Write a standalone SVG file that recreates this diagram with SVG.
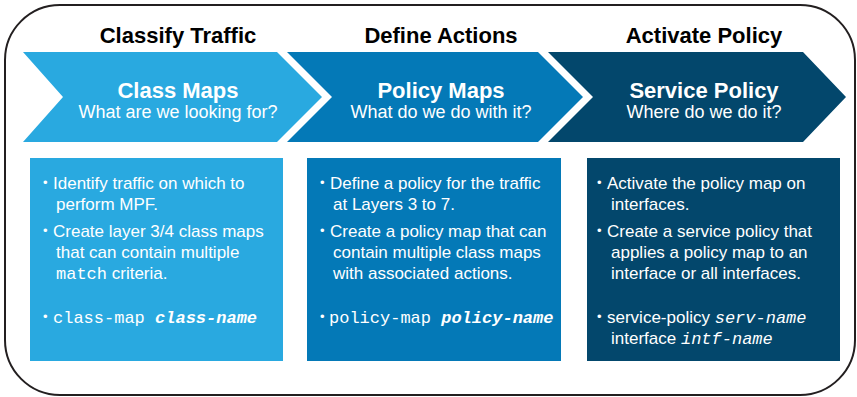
<svg xmlns="http://www.w3.org/2000/svg" width="857" height="397" viewBox="0 0 857 397">
<style>
.hd{font-family:"Liberation Sans",Arial,sans-serif;font-weight:bold;font-size:22px;fill:#000;text-anchor:middle}
.at{font-family:"Liberation Sans",Arial,sans-serif;font-weight:bold;font-size:22px;fill:#fff;text-anchor:middle}
.as{font-family:"Liberation Sans",Arial,sans-serif;font-size:18px;fill:#fff;text-anchor:middle}
.bt{font-family:"Liberation Sans",Arial,sans-serif;font-size:17px;fill:#fff}
.bu{font-family:"Liberation Sans",Arial,sans-serif;font-size:13px;fill:#fff}
.mono{font-family:"Liberation Mono","Courier New",monospace;font-size:17px}
.mi{font-family:"Liberation Mono","Courier New",monospace;font-size:17px;font-style:italic}
.c1{fill:#29a9e0}.c2{fill:#0479b7}.c3{fill:#03476c}
</style>
<rect x="5" y="5" width="850" height="390" rx="55" ry="55" fill="#fff" stroke="#231f20" stroke-width="2"/>
<g id="class-maps">
<text class="hd" x="178" y="43">Classify Traffic</text>
<polygon class="c1" points="23,52 277,52 322,97 277,142 23,142 63,97"/>
<text class="at" x="178" y="98">Class Maps</text>
<text class="as" x="178" y="118">What are we looking for?</text>
<rect class="c1" x="30" y="158" width="253" height="203"/>
<text class="bu" x="43" y="187">•</text>
<text class="bt" x="53" y="189">Identify traffic on which to</text>
<text class="bt" x="56" y="210">perform MPF.</text>
<text class="bu" x="43" y="235">•</text>
<text class="bt" x="53" y="237">Create layer 3/4 class maps</text>
<text class="bt" x="56" y="258">that can contain multiple</text>
<text class="bt" x="56" y="279"><tspan class="mono">match</tspan> criteria.</text>
<text class="bu" x="43" y="321">•</text>
<text class="bt" x="53" y="323"><tspan class="mono">class-map </tspan><tspan class="mi" font-weight="bold">class-name</tspan></text>
</g>
<g id="policy-maps">
<text class="hd" x="441" y="43">Define Actions</text>
<polygon class="c2" points="287,52 538,52 583,97 538,142 287,142 332,97"/>
<text class="at" x="441" y="98">Policy Maps</text>
<text class="as" x="441" y="118">What do we do with it?</text>
<rect class="c2" x="307" y="158" width="254" height="203"/>
<text class="bu" x="320" y="187">•</text>
<text class="bt" x="330" y="189">Define a policy for the traffic</text>
<text class="bt" x="333" y="210">at Layers 3 to 7.</text>
<text class="bu" x="320" y="235">•</text>
<text class="bt" x="330" y="237">Create a policy map that can</text>
<text class="bt" x="333" y="258">contain multiple class maps</text>
<text class="bt" x="333" y="279">with associated actions.</text>
<text class="bu" x="320" y="321">•</text>
<text class="bt" x="329" y="323"><tspan class="mono">policy-map </tspan><tspan class="mi" font-weight="bold">policy-name</tspan></text>
</g>
<g id="service-policy">
<text class="hd" x="704" y="43">Activate Policy</text>
<polygon class="c3" points="548,52 803,52 846,97 803,142 548,142 593,97"/>
<text class="at" x="704" y="98">Service Policy</text>
<text class="as" x="704" y="118">Where do we do it?</text>
<rect class="c3" x="587" y="158" width="253" height="203"/>
<text class="bu" x="597" y="187">•</text>
<text class="bt" x="607" y="189">Activate the policy map on</text>
<text class="bt" x="611" y="210">interfaces.</text>
<text class="bu" x="597" y="235">•</text>
<text class="bt" x="607" y="237">Create a service policy that</text>
<text class="bt" x="611" y="258">applies a policy map to an</text>
<text class="bt" x="611" y="279">interface or all interfaces.</text>
<text class="bu" x="597" y="321">•</text>
<text class="bt" x="607" y="323">service-policy <tspan class="mi">serv-name</tspan></text>
<text class="bt" x="611" y="344">interface <tspan class="mi">intf-name</tspan></text>
</g>
<g id="connectors"/>
</svg>
